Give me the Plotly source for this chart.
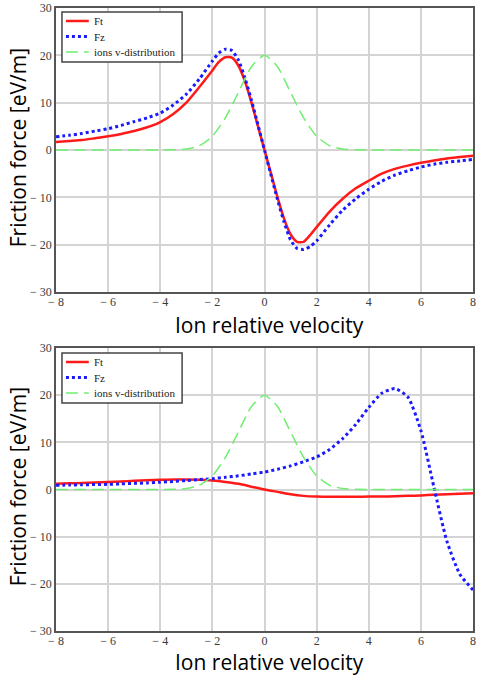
import plotly.graph_objects as go

# ---- data ----
v_top = [-8, -7.5, -7, -6.5, -6, -5.5, -5, -4.5, -4, -3.5, -3, -2.5, -2, -1.75, -1.5, -1.25, -1,
         -0.75, -0.5, -0.25, 0, 0.25, 0.5, 0.75, 1, 1.25, 1.5, 1.75, 2, 2.5, 3, 3.5, 4, 4.5, 5,
         5.5, 6, 6.5, 7, 7.5, 8]
ft_top = [1.7, 1.9, 2.1, 2.5, 2.9, 3.4, 4.0, 4.8, 5.9, 7.6, 10.0, 13.3, 16.8, 18.6, 19.6, 19.5, 17.8,
          14.5, 10.0, 5.0, 0.0, -5.0, -10.0, -14.5, -17.8, -19.4, -19.4, -18.0, -16.3, -13.0, -10.3,
          -8.1, -6.5, -5.0, -4.0, -3.3, -2.7, -2.2, -1.8, -1.5, -1.2]
fz_top = [2.8, 3.1, 3.5, 4.0, 4.5, 5.2, 6.0, 6.8, 7.8, 9.5, 11.8, 15.0, 18.8, 20.5, 21.3, 21.0, 19.0,
          15.2, 10.5, 5.3, 0.0, -5.3, -10.5, -15.2, -19.0, -20.8, -21.0, -20.4, -19.2, -15.8, -12.7,
          -10.3, -8.3, -6.6, -5.3, -4.4, -3.6, -3.0, -2.6, -2.3, -2.0]

v_dist = [-8, -7, -6, -5, -4, -3.5, -3, -2.5, -2, -1.5, -1, -0.5, 0, 0.5, 1, 1.5, 2, 2.5, 3, 3.5,
          4, 5, 6, 7, 8]
ion_dist = [0, 0, 0, 0, 0, 0.03, 0.2, 0.9, 2.9, 6.8, 12.2, 17.6, 20.0, 17.6, 12.2, 6.8, 2.9, 0.9,
            0.2, 0.03, 0, 0, 0, 0, 0]

v_bot = [-8, -7.5, -7, -6.5, -6, -5.5, -5, -4.5, -4, -3.5, -3, -2.5, -2, -1.5, -1, -0.5, 0,
         0.5, 1, 1.5, 2, 2.5, 3, 3.5, 4, 4.5, 5, 5.5, 6, 6.5, 7, 7.5, 8]
ft_bot = [1.2, 1.3, 1.4, 1.5, 1.6, 1.7, 1.85, 1.95, 2.05, 2.1, 2.1, 2.05, 1.9, 1.6, 1.2, 0.6, 0.0,
          -0.5, -1.0, -1.35, -1.5, -1.55, -1.55, -1.55, -1.5, -1.5, -1.45, -1.35, -1.25, -1.1,
          -1.0, -0.9, -0.8]
fz_bot = [0.9, 0.95, 1.0, 1.05, 1.1, 1.2, 1.3, 1.4, 1.55, 1.7, 1.9, 2.1, 2.3, 2.6, 2.9, 3.3, 3.7,
          4.3, 5.0, 5.9, 6.9, 8.5, 10.8, 13.8, 17.4, 20.4, 21.4, 19.6, 12.5, 0.5, -11.0, -18.0, -21.3]

x_ticks = [-8, -6, -4, -2, 0, 2, 4, 6, 8]
x_ticktext = ["\u2212 8", "\u2212 6", "\u2212 4", "\u2212 2", "0", "2", "4", "6", "8"]
y_ticks = [-30, -20, -10, 0, 10, 20, 30]
y_ticktext = ["\u2212 30", "\u2212 20", "\u2212 10", "0", "10", "20", "30"]

names = ["Ft", "Fz", "ions v-distribution"]
x_title = "Ion relative velocity"
y_title = "Friction force [eV/m]"

RED = "#ff1a1a"
BLUE = "#1a1aff"
GREEN = "#70ee70"
styles = [dict(color=RED, width=2.5),
          dict(color=BLUE, width=3, dash="dot"),
          dict(color=GREEN, width=1.5, dash="12px,6px")]

# layout geometry (pixels)
W, H = 477, 677
L, R, T, B = 56, 1, 8, 46
PW, PH = W - L - R, H - T - B

def px(xp):
    return (xp - L) / PW

def py(yp):
    return (H - B - yp) / PH

fig = go.Figure()

def add_panel(xa, ya, vx, ft, fz):
    for name, xs, ys, st in [(names[0], vx, ft, styles[0]),
                             (names[1], vx, fz, styles[1]),
                             (names[2], v_dist, ion_dist, styles[2])]:
        fig.add_trace(go.Scatter(x=xs, y=ys, name=name, mode="lines", xaxis=xa, yaxis=ya,
                                 showlegend=False,
                                 line=dict(shape="spline", smoothing=0.6, **st)))

add_panel("x", "y", v_top, ft_top, fz_top)
add_panel("x2", "y2", v_bot, ft_bot, fz_bot)

tickfont = dict(family="Liberation Serif", size=12, color="#3a3a3a")
axcommon = dict(showline=True, linecolor="#555555", linewidth=1.5, mirror=True,
                showgrid=True, gridcolor="#d4d4d4", gridwidth=1.5, zeroline=False,
                ticks="", tickfont=tickfont, ticklabeloverflow="allow")

fig.update_layout(
    width=W, height=H,
    margin=dict(l=L, r=R, t=T, b=B),
    paper_bgcolor="white", plot_bgcolor="white",
    xaxis=dict(domain=[0, 1], range=[-8, 8], tickvals=x_ticks, ticktext=x_ticktext,
               anchor="y", ticklabelstandoff=-2, **axcommon),
    yaxis=dict(domain=[py(292), 1], range=[-30, 30], tickvals=y_ticks, ticktext=y_ticktext,
               anchor="x", **axcommon),
    xaxis2=dict(domain=[0, 1], range=[-8, 8], tickvals=x_ticks, ticktext=x_ticktext,
                anchor="y2", ticklabelstandoff=-2, **axcommon),
    yaxis2=dict(domain=[0, py(348)], range=[-30, 30], tickvals=y_ticks, ticktext=y_ticktext,
                anchor="x2", **axcommon),
    showlegend=False,
)

# legend boxes (one per panel)
legfont = dict(family="Liberation Serif", size=11, color="#222222")
for off in [0, 341]:
    fig.add_shape(type="rect", xref="paper", yref="paper", layer="above",
                  x0=px(62), x1=px(183), y0=py(12 + off), y1=py(62 + off),
                  line=dict(color="#444444", width=1.5), fillcolor="white")
    for i, (name, st) in enumerate(zip(names, styles)):
        yy = 21 + off + i * 15.5
        fig.add_shape(type="line", xref="paper", yref="paper", layer="above",
                      x0=px(66), x1=px(89), y0=py(yy), y1=py(yy), line=st)
        fig.add_annotation(xref="paper", yref="paper", showarrow=False, text=name,
                           x=px(92), y=py(yy), xanchor="left", yanchor="middle", font=legfont)

title_font = dict(family="Open Sans", size=21, color="black")
ann = [
    dict(text=y_title, x=px(18), y=py(148), textangle=-90),
    dict(text=x_title, x=px(271), y=py(325), textangle=0),
    dict(text=y_title, x=px(18), y=py(487), textangle=-90),
    dict(text=x_title, x=px(271), y=py(662), textangle=0),
]
for a in ann:
    fig.add_annotation(xref="paper", yref="paper", showarrow=False, font=title_font,
                       xanchor="center", yanchor="middle", **a)

fig.write_html("out.html", config={"displayModeBar": False},
               post_script="document.body.style.margin='0';document.body.style.overflow='hidden';")
